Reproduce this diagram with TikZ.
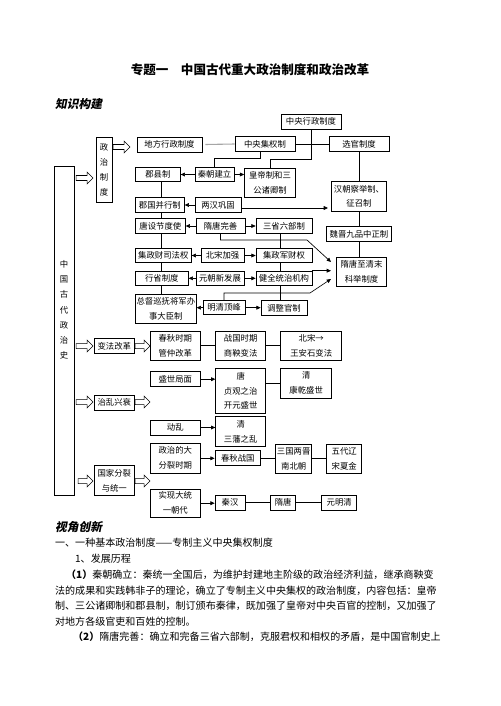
\documentclass[tikz,border=0pt]{standalone}
\usepackage{fontspec}
\setmainfont{Noto Sans CJK SC}
\newfontfamily\headfont[FakeSlant=0.2]{Noto Sans CJK SC}
\usepackage{tikz}
\usetikzlibrary{arrows.meta,positioning,calc}
\newdimen\pxu \pxu=0.042cm

\begin{document}
\begin{tikzpicture}[x=0.042cm,y=-0.042cm,
  bx/.style={draw,line width=0.8pt,inner sep=0pt,align=center,
    font=\fontsize{10}{17.9}\selectfont},
  lbx/.style={bx,anchor=west},
  arr/.style={line width=0.8pt,-{Triangle[length=1.8mm,width=1.6mm]}},
  lnk/.style={line width=0.8pt},
  pics/harrow/.style={code={\draw[line width=0.6pt] (0,-2.5) -- (#1-6,-2.5) -- (#1-6,-6)
    -- (#1,0) -- (#1-6,6) -- (#1-6,2.5) -- (0,2.5) -- cycle;}},
  body/.style={anchor=west,inner sep=0pt,font=\fontsize{12}{14}\selectfont}]
  \useasboundingbox (0,0) rectangle (500,706);

  % headings
  \node[font=\fontsize{15}{18}\selectfont\bfseries] (title) at (250,70)
    {专题一\hspace{1em}中国古代重大政治制度和政治改革};
  \node[anchor=west,inner sep=0pt,font=\headfont\fontsize{14}{16}\bfseries\selectfont] (zsgj) at (55,104) {知识构建};

  % top: central and local system
  \node[bx,minimum width=60\pxu,minimum height=15\pxu] (zy) at (311,121.5) {中央行政制度};
  \node[bx,minimum width=16\pxu,minimum height=65\pxu] (zzzd) at (104,169.5) {政\\治\\制\\度};
  \node[bx,minimum width=65\pxu,minimum height=15\pxu] (dfxz) at (169.5,144.5) {地方行政制度};
  \node[bx,minimum width=60\pxu,minimum height=14.5\pxu] (zyjq) at (265,144) {中央集权制};
  \node[bx,minimum width=60\pxu,minimum height=14.5\pxu] (xg) at (359,144) {选官制度};

  % big left box
  \node[draw,line width=0.8pt,minimum width=20\pxu,minimum height=329\pxu] (zgs) at (64,330.5) {};
  \node[align=center,inner sep=0pt,font=\fontsize{10}{18.2}\selectfont] (zgsl) at (64,310)
    {中\\国\\古\\代\\政\\治\\史};

  % left column
  \node[lbx,minimum width=45\pxu,minimum height=14.5\pxu] (jx) at (135,174.5) {郡县制};
  \node[lbx,minimum width=49\pxu,minimum height=14.5\pxu] (jg) at (135,205) {郡国并行制};
  \node[lbx,minimum width=50\pxu,minimum height=14.5\pxu] (tj) at (135,226) {唐设节度使};
  \node[lbx,minimum width=56\pxu,minimum height=14.5\pxu] (jc) at (135,255.5) {集政财司法权};
  \node[lbx,minimum width=53\pxu,minimum height=14.5\pxu] (xs) at (135,278.3) {行省制度};
  \node[lbx,minimum width=61\pxu,minimum height=29.3\pxu] (zd) at (135,308.7) {总督巡抚将军办\\事大臣制};

  % middle column
  \node[bx,minimum width=39\pxu,minimum height=14.5\pxu] (qc) at (214.5,174.5) {秦朝建立};
  \node[bx,minimum width=46\pxu,minimum height=14.5\pxu] (lh) at (218,205) {两汉巩固};
  \node[bx,minimum width=49\pxu,minimum height=14.5\pxu] (sw) at (220.5,226) {隋唐完善};
  \node[bx,minimum width=43\pxu,minimum height=14.5\pxu] (bs) at (222.5,255.5) {北宋加强};
  \node[bx,minimum width=48\pxu,minimum height=14.5\pxu] (yc) at (220,278.3) {元朝新发展};
  \node[bx,minimum width=42\pxu,minimum height=14\pxu] (mq) at (224,307.7) {明清顶峰};

  % right column
  \node[bx,minimum width=51\pxu,minimum height=29\pxu] (hd) at (270,182.5) {皇帝制和三\\公诸卿制};
  \node[bx,minimum width=56\pxu,minimum height=14.5\pxu] (sb) at (284,226) {三省六部制};
  \node[bx,minimum width=56\pxu,minimum height=14.5\pxu] (jz) at (284,255.5) {集政军财权};
  \node[bx,minimum width=56\pxu,minimum height=14.5\pxu] (jq) at (284,278.3) {健全统治机构};
  \node[bx,minimum width=46\pxu,minimum height=15\pxu] (tz) at (284,308.3) {调整官制};

  % selection of officials
  \node[bx,minimum width=55\pxu,minimum height=30.7\pxu] (hanchao) at (359,196.3) {汉朝察举制、\\征召制};
  \node[bx,minimum width=65\pxu,minimum height=14.5\pxu] (weijin) at (359,234) {魏晋九品中正制};
  \node[bx,minimum width=50\pxu,minimum height=29.3\pxu] (keju) at (361.5,271.5) {隋唐至清末\\科举制度};

  \coordinate (lcol) at (161,0);
  \coordinate (rcol) at (280,0);
  \coordinate (c1) at (260,158);
  \coordinate (c2) at (270,159);
  \coordinate (b1) at (307,240);
  \coordinate (b3) at (310,293);
  \coordinate (kt1) at (331,262);
  \coordinate (kt3) at (331,279);
  \coordinate (hcin) at (328,208);

  \draw[lnk,gray!70,line width=1.3pt] ([xshift=3\pxu]dfxz.east) -- (zyjq.west);
  \draw[lnk] (zyjq.east) -- (zyjq.east -| xg.west);
  \draw[lnk] (zy.south) |- (c2) -- (hd.north);
  \draw[lnk] (c1 |- zyjq.south) -- (c1) -| (qc.north);
  \draw[lnk] (xg.south) -- (hanchao.north);
  \draw[lnk] (hanchao.south) -- (weijin.north);
  \draw[lnk] (weijin.south) -- (weijin.south |- keju.north);

  \foreach \m/\l in {qc/jx,lh/jg,sw/tj,bs/jc,yc/xs,mq/zd}
    \draw[arr] (\m.west) -- (\m.west -| \l.east);
  \foreach \m/\r in {qc/hd,sw/sb,bs/jz,yc/jq,mq/tz}
    \draw[arr] (\m.east) -- (\m.east -| \r.west);
  \draw[arr] (lh.east |- hcin) -- (hcin);

  \foreach \a/\b in {jx/jg,jg/tj,tj/jc,jc/xs,xs/zd}
    \draw[lnk] (\a.south -| lcol) -- (\b.north -| lcol);
  \foreach \a/\b in {sb/jz,jz/jq,jq/tz}
    \draw[lnk] (\a.south -| rcol) -- (\b.north -| rcol);

  \draw[arr] (sw.south) |- (b1) -- (kt1);
  \draw[arr] (jq.north east) -- (jq.north east -| kt1);
  \draw[arr] (mq.north) |- (b3) -- (kt3);

  % hollow arrows
  \pic at (76,178) {harrow=17};
  \pic at (113,147) {harrow=17};
  \pic at (76,346) {harrow=17};
  \pic at (135,346) {harrow=15};
  \pic at (76,402) {harrow=17};
  \pic at (135,402) {harrow=15};
  \pic at (78,481) {harrow=15};
  \pic at (135,481) {harrow=15};

  % reforms
  \node[bx,minimum width=40\pxu,minimum height=15\pxu] (bf) at (114.3,345.8) {变法改革};
  \node[bx,minimum width=50.7\pxu,minimum height=28.3\pxu] (cq) at (175.3,345.8) {春秋时期\\管仲改革};
  \node[bx,minimum width=50\pxu,minimum height=28.3\pxu] (zg) at (240.7,345.8) {战国时期\\商鞅变法};
  \node[bx,minimum width=61\pxu,minimum height=28.3\pxu] (bsw) at (311.2,345.8) {北宋→\\王安石变法};
  \draw[lnk] (cq) -- (zg);
  \draw[lnk] (zg) -- (bsw);

  % order and disorder
  \node[bx,minimum width=40\pxu,minimum height=15\pxu] (zl) at (114.3,402.5) {治乱兴衰};
  \node[bx,minimum width=50.7\pxu,minimum height=15\pxu] (ss) at (175.3,379.2) {盛世局面};
  \node[bx,minimum width=50\pxu,minimum height=45\pxu] (tang) at (240.7,390.8) {唐\\贞观之治\\开元盛世};
  \node[bx,minimum width=51\pxu,minimum height=30\pxu] (qk) at (306.2,383.3) {清\\康乾盛世};
  \node[bx,minimum width=50.7\pxu,minimum height=15\pxu] (dl) at (175.3,427.5) {动乱};
  \node[bx,minimum width=50\pxu,minimum height=30\pxu] (qsf) at (240.7,431.7) {清\\三藩之乱};
  \draw[arr] (ss.east) -- (ss.east -| tang.west);
  \draw[lnk] (qk.west -| tang.east) -- (qk.west);
  \draw[arr] (dl.east) -- (dl.east -| qsf.west);

  % division and unity
  \node[bx,minimum width=40\pxu,minimum height=29.3\pxu] (gj) at (114.3,480.3) {国家分裂\\与统一};
  \node[bx,minimum width=50.7\pxu,minimum height=30\pxu] (fl) at (175.3,458.3) {政治的大\\分裂时期};
  \node[bx,minimum width=45.7\pxu,minimum height=15\pxu] (cz) at (237.8,458.3) {春秋战国};
  \node[bx,minimum width=36\pxu,minimum height=29.3\pxu] (sg) at (293.7,458.7) {三国两晋\\南北朝};
  \node[bx,minimum width=35\pxu,minimum height=29.3\pxu] (wd) at (344.2,458.7) {五代辽\\宋夏金};
  \node[bx,minimum width=50.7\pxu,minimum height=28.3\pxu] (ty) at (175.3,503.2) {实现大统\\一朝代};
  \node[bx,minimum width=30\pxu,minimum height=15\pxu] (qh) at (230,502.5) {秦汉};
  \node[bx,minimum width=25\pxu,minimum height=15\pxu] (st) at (283.2,502.5) {隋唐};
  \node[bx,minimum width=35\pxu,minimum height=15\pxu] (ymq) at (339.2,502.5) {元明清};
  \draw[arr] (fl.east) -- (fl.east -| cz.west);
  \draw[lnk] (cz.east) -- (cz.east -| sg.west);
  \draw[lnk] (sg) -- (wd);
  \draw[arr] (ty.east) -- (ty.east -| qh.west);
  \draw[lnk] (qh) -- (st);
  \draw[lnk] (st) -- (ymq);

  % text below
  \node[anchor=west,inner sep=0pt,font=\headfont\fontsize{14}{16}\bfseries\selectfont] (sjcx) at (55,527) {视角创新};
  \node[body] (t1) at (55,543) {一、一种基本政治制度——专制主义中央集权制度};
  \node[body] (t2) at (75,559) {1、发展历程};
  \node[body] (t3) at (66,575) {\textbf{（1）}秦朝确立：秦统一全国后，为维护封建地主阶级的政治经济利益，继承商鞅变};
  \node[body] (t4) at (55,591) {法的成果和实践韩非子的理论，确立了专制主义中央集权的政治制度，内容包括：皇帝};
  \node[body] (t5) at (55,606) {制、三公诸卿制和郡县制，制订颁布秦律，既加强了皇帝对中央百官的控制，又加强了};
  \node[body] (t6) at (55,622) {对地方各级官吏和百姓的控制。};
  \node[body] (t7) at (73,637) {\textbf{（2）}隋唐完善：确立和完备三省六部制，克服君权和相权的矛盾，是中国官制史上};
\end{tikzpicture}
\end{document}
